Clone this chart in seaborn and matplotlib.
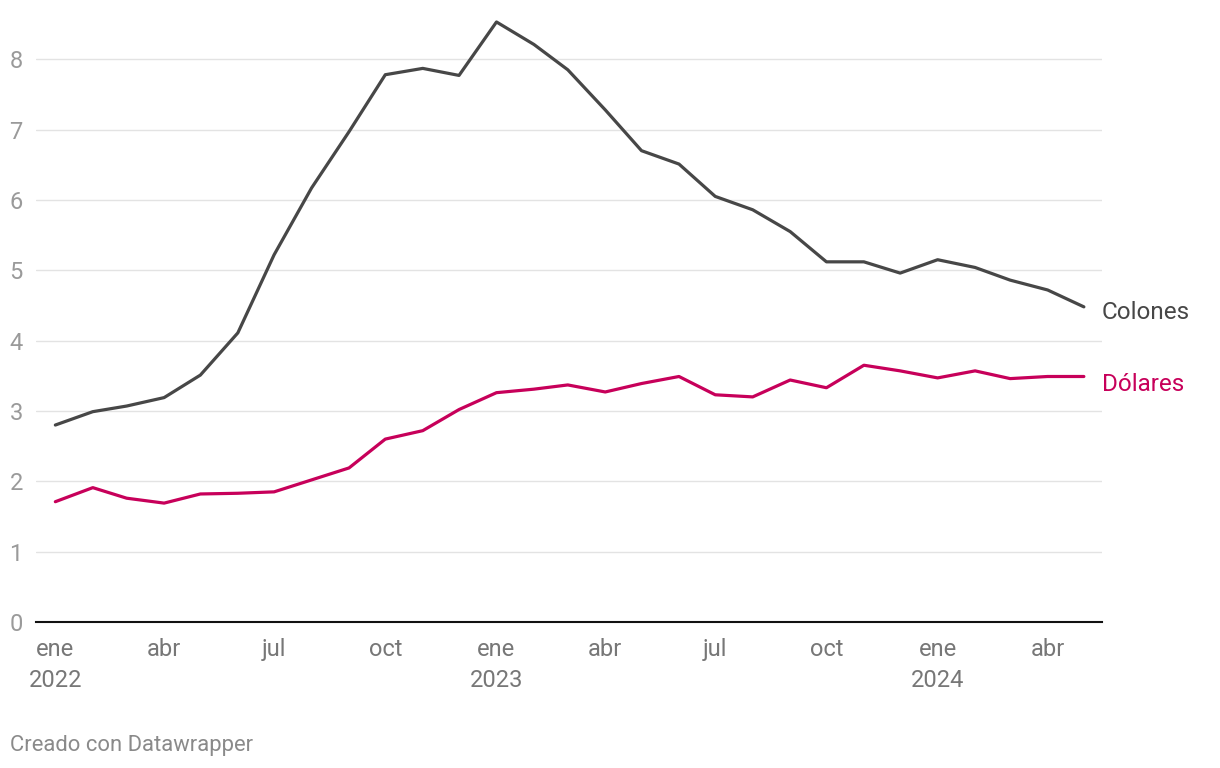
import matplotlib
matplotlib.use("Agg")
import matplotlib.pyplot as plt
import seaborn as sns
import pandas as pd
import numpy as np

dates = pd.date_range("2022-01-01", "2024-05-01", freq="MS")
colones = [2.80, 2.99, 3.07, 3.19, 3.51, 4.11, 5.22, 6.17, 6.97, 7.78, 7.87, 7.77,
           8.53, 8.21, 7.85, 7.28, 6.70, 6.51, 6.05, 5.86, 5.55, 5.12, 5.12, 4.96,
           5.15, 5.04, 4.86, 4.72, 4.48]
dolares = [1.71, 1.91, 1.76, 1.69, 1.82, 1.83, 1.85, 2.02, 2.19, 2.60, 2.72, 3.02,
           3.26, 3.31, 3.37, 3.27, 3.39, 3.49, 3.23, 3.20, 3.44, 3.33, 3.65, 3.57,
           3.47, 3.57, 3.46, 3.49, 3.49]
series_names = ["Colones", "Dólares"]
series_colors = ["#474747", "#c7005a"]
y_ticks = [0, 1, 2, 3, 4, 5, 6, 7, 8]
x_tick_dates = ["2022-01-01", "2022-04-01", "2022-07-01", "2022-10-01", "2023-01-01",
                "2023-04-01", "2023-07-01", "2023-10-01", "2024-01-01", "2024-04-01"]
x_tick_labels = ["ene\n2022", "abr", "jul", "oct", "ene\n2023", "abr", "jul", "oct",
                 "ene\n2024", "abr"]

df = pd.DataFrame({"fecha": list(dates) * 2,
                   "valor": colones + dolares,
                   "serie": [series_names[0]] * len(dates) + [series_names[1]] * len(dates)})

sns.set_theme(style="white")
plt.rcParams["font.family"] = ["Roboto", "DejaVu Sans"]

fig = plt.figure(figsize=(12.2, 7.68), dpi=100)
W, H = 1220, 768
ax = fig.add_axes([36 / W, (H - 622) / H, (1102 - 36) / W, (622 - 10) / H])

sns.lineplot(data=df, x="fecha", y="valor", hue="serie", palette=series_colors,
             hue_order=series_names, linewidth=2.3, ax=ax, legend=False)

ax.set_xlim(pd.Timestamp("2021-12-16"), pd.Timestamp("2024-05-16"))
ax.set_ylim(0, 8.7)
ax.set_yticks(y_ticks)
ax.set_yticklabels([str(t) for t in y_ticks])
ax.set_xticks(pd.to_datetime(x_tick_dates))
ax.set_xticklabels(x_tick_labels, linespacing=1.42)
ax.set_xlabel("")
ax.set_ylabel("")

ax.grid(axis="y", color="#e3e3e3", linewidth=1.0)
ax.grid(axis="x", visible=False)
ax.set_axisbelow(True)
for s in ["top", "right", "left"]:
    ax.spines[s].set_visible(False)
ax.spines["bottom"].set_color("#111111")
ax.spines["bottom"].set_linewidth(1.5)
ax.spines["bottom"].set_zorder(5)

ax.tick_params(axis="y", length=0, pad=9.5, labelsize=17, labelcolor="#9a9a9a")
ax.tick_params(axis="x", length=0, pad=11.5, labelsize=17, labelcolor="#777777")

ax.annotate(series_names[0], xy=(1.0, colones[-1]), xycoords=("axes fraction", "data"),
            xytext=(0, -4.2), textcoords="offset points",
            ha="left", va="center", fontsize=17.5, color=series_colors[0])
ax.annotate(series_names[1], xy=(1.0, dolares[-1]), xycoords=("axes fraction", "data"),
            xytext=(0, -6), textcoords="offset points",
            ha="left", va="center", fontsize=17.5, color=series_colors[1])

fig.text(10 / W, 1 - 745 / H, "Creado con Datawrapper", ha="left", va="center",
         fontsize=15.8, color="#8a8a8a")

fig.savefig("out.png", dpi=100)
